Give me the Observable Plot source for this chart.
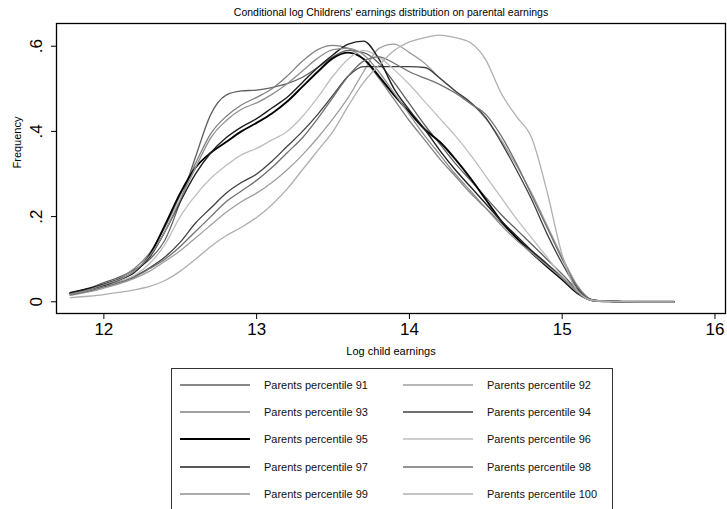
<!DOCTYPE html>
<html>
<head>
<meta charset="utf-8">
<script src="https://cdn.jsdelivr.net/npm/d3@7"></script>
<script src="https://cdn.jsdelivr.net/npm/@observablehq/plot@0.6"></script>
<style>
  html, body { margin: 0; padding: 0; background: #fff; }
  body { width: 727px; height: 509px; position: relative; overflow: hidden; font-family: "Liberation Sans", Arial, sans-serif; }
  #chart { position: absolute; left: 0; top: 0; }
  #legend { position: absolute; left: 171px; top: 368px; width: 442px; height: 160px; box-sizing: border-box; border: 1px solid #333; background: #fff; }
  .item { position: absolute; height: 20px; display: flex; align-items: center; font-size: 11px; color: #111; white-space: nowrap; }
  .item svg { margin-right: 14px; }
</style>
</head>
<body>
<div id="chart"></div>
<div id="legend"></div>
<script>
const titleText = "Conditional log Childrens' earnings distribution on parental earnings";
const xLabel = "Log child earnings";
const yLabel = "Frequency";
const xTicks = [12, 13, 14, 15, 16];
const yTicks = [0, 0.2, 0.4, 0.6];
const yTickLabels = ["0", ".2", ".4", ".6"];

const percentiles = ["91", "92", "93", "94", "95", "96", "97", "98", "99", "100"];
const lineColors = ["#606060", "#9f9f9f", "#808080", "#404040", "#000000", "#bfbfbf", "#202020", "#707070", "#8f8f8f", "#afafaf"];
const lineWidths = [1.3, 1.3, 1.3, 1.3, 1.9, 1.3, 1.4, 1.3, 1.3, 1.3];

const xGrid = [11.78,11.9,12.0,12.1,12.2,12.3,12.4,12.5,12.6,12.7,12.8,12.9,13.0,13.1,13.2,13.3,13.4,13.5,13.6,13.7,13.8,13.9,14.0,14.1,14.2,14.3,14.4,14.5,14.6,14.7,14.8,14.9,15.0,15.1,15.2,15.3,15.5,15.73];

const p91  = [.022,.032,.045,.058,.075,.100,.145,.235,.340,.440,.485,.495,.497,.503,.512,.527,.550,.575,.590,.585,.560,.515,.465,.415,.370,.325,.285,.245,.205,.170,.135,.100,.065,.028,.004,.001,0,0];
const p92  = [.015,.023,.032,.042,.055,.072,.095,.120,.150,.180,.210,.235,.255,.280,.310,.345,.385,.430,.480,.540,.595,.605,.585,.560,.525,.495,.468,.430,.380,.320,.255,.180,.105,.038,.004,.001,0,0];
const p93  = [.020,.030,.042,.055,.078,.115,.175,.250,.325,.395,.435,.462,.480,.500,.530,.565,.592,.602,.595,.570,.525,.475,.425,.380,.335,.295,.255,.220,.185,.150,.120,.090,.058,.025,.003,.001,0,0];
const p94  = [.018,.027,.037,.047,.060,.080,.105,.140,.185,.220,.255,.280,.300,.330,.365,.400,.440,.485,.530,.552,.552,.552,.552,.550,.525,.495,.468,.432,.375,.310,.240,.160,.090,.032,.004,.001,0,0];
const p95  = [.020,.030,.040,.052,.070,.110,.180,.255,.315,.350,.375,.400,.420,.442,.470,.505,.540,.572,.585,.570,.530,.485,.445,.405,.375,.335,.290,.240,.190,.150,.115,.083,.052,.020,.003,.001,0,0];
const p96  = [.016,.025,.035,.046,.062,.090,.135,.200,.250,.290,.320,.345,.360,.380,.400,.435,.480,.530,.570,.590,.575,.545,.510,.470,.430,.390,.345,.295,.245,.195,.150,.105,.060,.022,.003,.001,0,0];
const p97  = [.020,.030,.040,.052,.070,.105,.165,.235,.300,.350,.385,.410,.430,.455,.480,.515,.550,.580,.605,.612,.570,.500,.450,.405,.355,.310,.270,.230,.190,.155,.120,.088,.055,.022,.003,.001,0,0];
const p98  = [.016,.025,.035,.045,.058,.078,.100,.130,.165,.200,.235,.260,.285,.315,.350,.385,.430,.480,.530,.565,.575,.560,.540,.525,.510,.490,.465,.440,.390,.325,.250,.175,.100,.035,.004,.001,0,0];
const p99  = [.018,.028,.040,.052,.072,.108,.165,.240,.315,.385,.425,.452,.467,.487,.512,.542,.572,.592,.595,.580,.540,.490,.440,.390,.345,.300,.260,.220,.180,.145,.115,.085,.055,.023,.003,.001,0,0];
const p100 = [.010,.013,.017,.022,.028,.036,.050,.072,.100,.130,.155,.175,.198,.228,.265,.310,.355,.400,.460,.515,.555,.590,.610,.620,.626,.620,.608,.568,.490,.435,.385,.260,.110,.025,.003,.001,0,0];

const seriesValues = [p91, p92, p93, p94, p95, p96, p97, p98, p99, p100];

const series = percentiles.map((p, i) => ({
  name: p,
  color: lineColors[i],
  width: lineWidths[i],
  data: xGrid.map((x, j) => ({x, y: seriesValues[i][j]}))
}));

const font = "Liberation Sans, Arial, sans-serif";

const plot = Plot.plot({
  width: 727,
  height: 362,
  marginLeft: 56,
  marginRight: 2,
  marginTop: 23,
  marginBottom: 49,
  style: {fontFamily: font, background: "transparent", color: "#000"},
  x: {domain: [11.69, 16.069], label: null},
  y: {domain: [-0.0275, 0.6533], label: null},
  marks: [
    ...series.map(s => Plot.line(s.data, {x: "x", y: "y", stroke: s.color, strokeWidth: s.width, curve: "monotone-x"})),
    Plot.frame({stroke: "#000", strokeWidth: 1.3}),
    Plot.axisX({ticks: xTicks, tickSize: 6, tickPadding: 3, fontSize: 17, tickFormat: d => String(d), label: null}),
    Plot.axisY({ticks: yTicks, tickSize: 5, tickFormat: () => "", label: null}),
    Plot.text(yTicks, {y: d => d, text: (d, i) => yTickLabels[i], frameAnchor: "left", dx: -15, rotate: -90, textAnchor: "middle", lineAnchor: "bottom", fontSize: 17}),
    Plot.text([titleText], {text: d => d, frameAnchor: "top", dy: -11, fontSize: 10.5, lineAnchor: "middle"}),
    Plot.text([xLabel], {text: d => d, frameAnchor: "bottom", dy: 38, fontSize: 11, lineAnchor: "middle"}),
    Plot.text([yLabel], {text: d => d, frameAnchor: "left", dx: -39, rotate: -90, fontSize: 11, lineAnchor: "middle"})
  ]
});
document.getElementById("chart").appendChild(plot);

// Legend (HTML), built from the same series arrays
const legend = document.getElementById("legend");
series.forEach((s, i) => {
  const col = i % 2, row = Math.floor(i / 2);
  const item = document.createElement("div");
  item.className = "item";
  item.style.left = (col === 0 ? 8 : 231) + "px";
  item.style.top = (6 + row * 27.2) + "px";
  const svg = document.createElementNS("http://www.w3.org/2000/svg", "svg");
  svg.setAttribute("width", "70");
  svg.setAttribute("height", "10");
  const ln = document.createElementNS("http://www.w3.org/2000/svg", "line");
  ln.setAttribute("x1", "0"); ln.setAttribute("x2", "70");
  ln.setAttribute("y1", "5"); ln.setAttribute("y2", "5");
  ln.setAttribute("stroke", s.color);
  ln.setAttribute("stroke-width", s.width + 0.3);
  svg.appendChild(ln);
  const label = document.createElement("span");
  label.textContent = "Parents percentile " + s.name;
  item.appendChild(svg);
  item.appendChild(label);
  legend.appendChild(item);
});
</script>
</body>
</html>
